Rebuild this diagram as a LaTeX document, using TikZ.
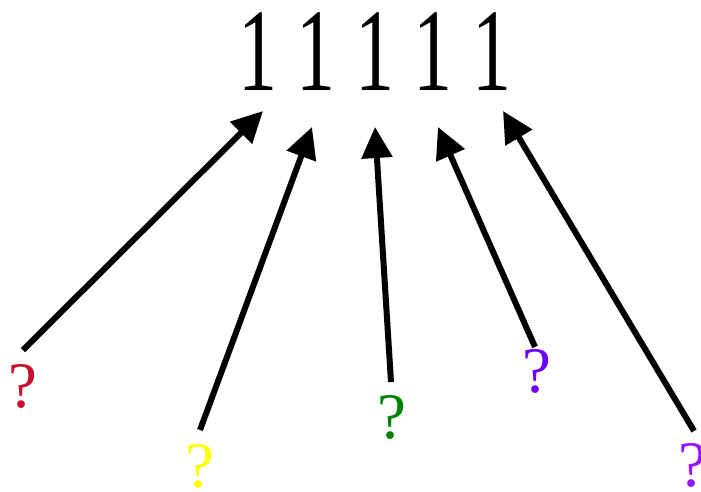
\documentclass[tikz,border=0pt]{standalone}
\usepackage{fontspec}
\setmainfont{Liberation Serif}
\usetikzlibrary{arrows.meta}
\definecolor{qred}{RGB}{200,16,46}
\definecolor{qyellow}{RGB}{255,255,0}
\definecolor{qgreen}{RGB}{0,130,0}
\definecolor{qviolet}{RGB}{108,0,255}
\definecolor{qpurple}{RGB}{150,20,255}
\newcommand{\narrowone}{\scalebox{0.66}[1]{1}}
\tikzset{
  digit/.style={inner sep=0pt, anchor=base, font=\fontsize{118}{118}\selectfont},
  qmark/.style={inner sep=0pt, anchor=base, font=\fontsize{65}{65}\selectfont},
  arr/.style={line width=6pt, -{Triangle[length=31pt,width=30pt]}}
}
\begin{document}
\begin{tikzpicture}[x=1pt,y=-1pt]
\useasboundingbox (0,0) rectangle (701,491);
% the five digits
\node[digit] (d1) at (257.5,90) {\narrowone};
\node[digit] (d2) at (316,90) {\narrowone};
\node[digit] (d3) at (375,90) {\narrowone};
\node[digit] (d4) at (433,90) {\narrowone};
\node[digit] (d5) at (492,90) {\narrowone};
% the question marks
\node[qmark, text=qred] (q1) at (23,407) {?};
\node[qmark, text=qyellow] (q2) at (200,487) {?};
\node[qmark, text=qgreen] (q3) at (392,438) {?};
\node[qmark, text=qviolet] (q4) at (537,392) {?};
\node[qmark, text=qpurple] (q5) at (693,486) {?};
% arrow ends
\coordinate (s1) at (23,350);
\coordinate (s2) at (200,430);
\coordinate (s3) at (391,382);
\coordinate (s4) at (535,347);
\coordinate (s5) at (694,431);
\coordinate (e1) at (263,111);
\coordinate (e2) at (312,127);
\coordinate (e3) at (375,127);
\coordinate (e4) at (438,127);
\coordinate (e5) at (503,111);
\draw[arr] (s1) -- (e1);
\draw[arr] (s2) -- (e2);
\draw[arr] (s3) -- (e3);
\draw[arr] (s4) -- (e4);
\draw[arr] (s5) -- (e5);
\end{tikzpicture}
\end{document}
